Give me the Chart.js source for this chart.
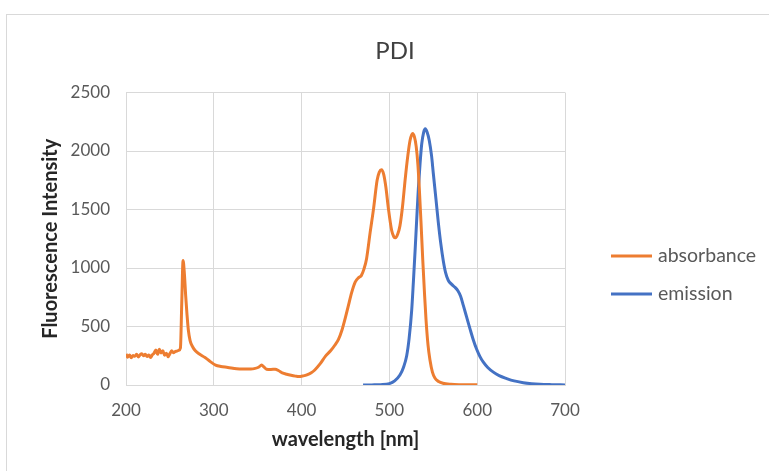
<!DOCTYPE html>
<html>
<head>
<meta charset="utf-8">
<script src="https://cdn.jsdelivr.net/npm/chart.js@4.4.1/dist/chart.umd.min.js"></script>
<style>
  html, body { margin: 0; padding: 0; background: #fff; overflow: hidden; width: 769px; height: 471px; }
  #frame { position: absolute; left: 6px; top: 14px; width: 776px; height: 468px; border: 1px solid #d9d9d9; background: #fff; }
  canvas { display: block; }
</style>
</head>
<body>
<div id="frame"><canvas id="c" width="776" height="468"></canvas></div>
<script>
// Absorbance spectrum (wavelength in nm, intensity)
const absWavelength = [
  200, 202, 204, 206, 208, 210, 212, 214, 216, 218, 220, 222, 224, 226, 228, 230,
  232, 234, 236, 238, 240, 242, 244, 246, 248, 250, 252, 254, 256, 258, 260, 262,
  263.5, 265, 266.5, 268, 269.5, 271, 273, 276, 279, 284, 290, 296, 302, 308, 316,
  326, 334, 341, 346, 351, 354.5, 357, 360, 365, 370, 374, 378, 383, 388, 393, 397,
  402, 406, 411, 415, 421, 427, 433, 438, 442, 446, 450, 453, 457, 461, 465, 468,
  471, 474, 478, 482, 486, 488.5, 491, 493.5, 496, 499, 502.6, 505, 507, 509.5, 512,
  515, 518, 521, 523.5, 526.5, 528.5, 530.5, 532.5, 534, 536, 538, 540, 541.7, 544,
  546.2, 549, 552, 556, 561, 570, 580, 600
];
const absIntensity = [
  265, 238, 256, 232, 252, 245, 262, 240, 258, 268, 250, 262, 244, 256, 236, 258,
  272, 300, 262, 305, 274, 292, 254, 272, 242, 268, 292, 276, 286, 290, 296, 318,
  700, 1065, 950, 760, 600, 470, 380, 325, 292, 262, 235, 200, 170, 158, 150,
  138, 136, 137, 140, 152, 170, 155, 135, 133, 135, 122, 104, 92, 83, 76, 72,
  78, 86, 104, 128, 180, 245, 292, 342, 390, 470, 580, 670, 790, 880, 918, 935,
  990, 1080, 1300, 1510, 1750, 1820, 1840, 1800, 1690, 1500, 1320, 1268, 1258, 1290, 1360,
  1530, 1760, 1960, 2090, 2150, 2120, 2040, 1880, 1690, 1390, 1068, 780, 560, 340,
  214, 110, 57, 30, 15, 6, 3, 2
];

// Emission spectrum
const emWavelength = [
  470, 480, 490, 500, 506, 512, 516, 519.7, 522.5, 525.4, 527.3, 529.2, 531, 533, 535,
  536.8, 539, 540.9, 543, 545.4, 548, 550, 553, 555.7, 558.5, 561.4, 564, 567, 571,
  574.7, 578, 581, 584.2, 588, 591.8, 595.6, 599.4, 603, 607, 612, 618.4, 625, 633.6,
  642, 652.5, 662, 671.5, 685, 700
];
const emIntensity = [
  0, 1, 3, 12, 35, 85, 150, 250, 400, 640, 880, 1140, 1400, 1680, 1900,
  2060, 2160, 2190, 2160, 2090, 1960, 1810, 1590, 1390, 1210, 1060, 960, 895, 860,
  835, 805, 760, 680, 580, 480, 385, 305, 245, 195, 150, 110, 80, 55,
  35, 20, 11, 6, 3, 1
];

const chartTitle = 'PDI';
const seriesNames = ['absorbance', 'emission'];
const xTicks = [200, 300, 400, 500, 600, 700];
const yTicks = [0, 500, 1000, 1500, 2000, 2500];

const toPoints = (xs, ys) => xs.map((x, i) => ({ x: x, y: ys[i] }));

// Title centred over the whole frame, and the legend to the right of the plot
const frameDecor = {
  id: 'frameDecor',
  afterDraw(chart) {
    const ctx = chart.ctx;
    ctx.save();

    ctx.font = '24px Lato';
    ctx.fillStyle = '#404040';
    ctx.textAlign = 'center';
    ctx.textBaseline = 'alphabetic';
    ctx.fillText(chartTitle, chart.width / 2, 43.5);

    const lineStart = 604, lineLen = 41, textX = 651;
    const rows = [241, 279];
    ctx.font = '19.5px Lato';
    ctx.textBaseline = 'middle';
    ctx.textAlign = 'left';
    chart.data.datasets.forEach((ds, i) => {
      const y = rows[i];
      ctx.strokeStyle = ds.borderColor;
      ctx.lineWidth = 3;
      ctx.beginPath();
      ctx.moveTo(lineStart, y);
      ctx.lineTo(lineStart + lineLen, y);
      ctx.stroke();
      ctx.fillStyle = '#595959';
      ctx.fillText(ds.label, textX, y);
    });
    ctx.restore();
  }
};

function draw() {
  new Chart(document.getElementById('c'), {
    type: 'scatter',
    data: {
      datasets: [
        {
          label: seriesNames[0],
          data: toPoints(absWavelength, absIntensity),
          borderColor: '#ED7D31',
          backgroundColor: '#ED7D31',
          borderWidth: 3,
          pointRadius: 0,
          showLine: true,
          cubicInterpolationMode: 'monotone',
          fill: false
        },
        {
          label: seriesNames[1],
          data: toPoints(emWavelength, emIntensity),
          borderColor: '#4472C4',
          backgroundColor: '#4472C4',
          borderWidth: 3,
          pointRadius: 0,
          showLine: true,
          cubicInterpolationMode: 'monotone',
          fill: false
        }
      ]
    },
    options: {
      responsive: false,
      animation: false,
      devicePixelRatio: 1,
      layout: { padding: { left: 0, right: 218, top: 77.5, bottom: 0 } },
      plugins: {
        legend: { display: false },
        tooltip: { enabled: false },
        title: { display: false }
      },
      scales: {
        x: {
          type: 'linear',
          min: xTicks[0],
          max: xTicks[xTicks.length - 1],
          afterBuildTicks(scale) { scale.ticks = xTicks.map(v => ({ value: v })); },
          afterFit(scale) { scale.height = 98; },
          grid: { color: '#d9d9d9', lineWidth: 1, drawTicks: false },
          border: { color: '#d9d9d9', width: 1 },
          ticks: {
            color: '#595959', font: { family: 'Lato', size: 17 }, padding: 15,
            maxRotation: 0, autoSkip: false, callback: v => String(v)
          },
          title: {
            display: true,
            text: 'wavelength [nm]',
            color: '#262626',
            font: { family: 'Lato', size: 20, weight: 'bold', lineHeight: 1.2 },
            padding: { top: 0, bottom: 31 }
          }
        },
        y: {
          type: 'linear',
          min: yTicks[0],
          max: yTicks[yTicks.length - 1],
          afterBuildTicks(scale) { scale.ticks = yTicks.map(v => ({ value: v })); },
          afterFit(scale) { scale.width = 119; },
          grid: { color: '#d9d9d9', lineWidth: 1, drawTicks: false },
          border: { color: '#d9d9d9', width: 1 },
          ticks: { color: '#595959', font: { family: 'Lato', size: 17 }, padding: 16, callback: v => String(v) },
          title: {
            display: true,
            text: 'Fluorescence Intensity',
            color: '#262626',
            font: { family: 'Lato', size: 20, weight: 'bold', lineHeight: 1.2 },
            padding: { top: 32, bottom: 0 }
          }
        }
      }
    },
    plugins: [frameDecor]
  });
}

if (document.fonts && document.fonts.load) {
  Promise.all([
    document.fonts.load('17px Lato'),
    document.fonts.load('bold 20px Lato')
  ]).then(draw, draw);
} else {
  draw();
}
</script>
</body>
</html>
